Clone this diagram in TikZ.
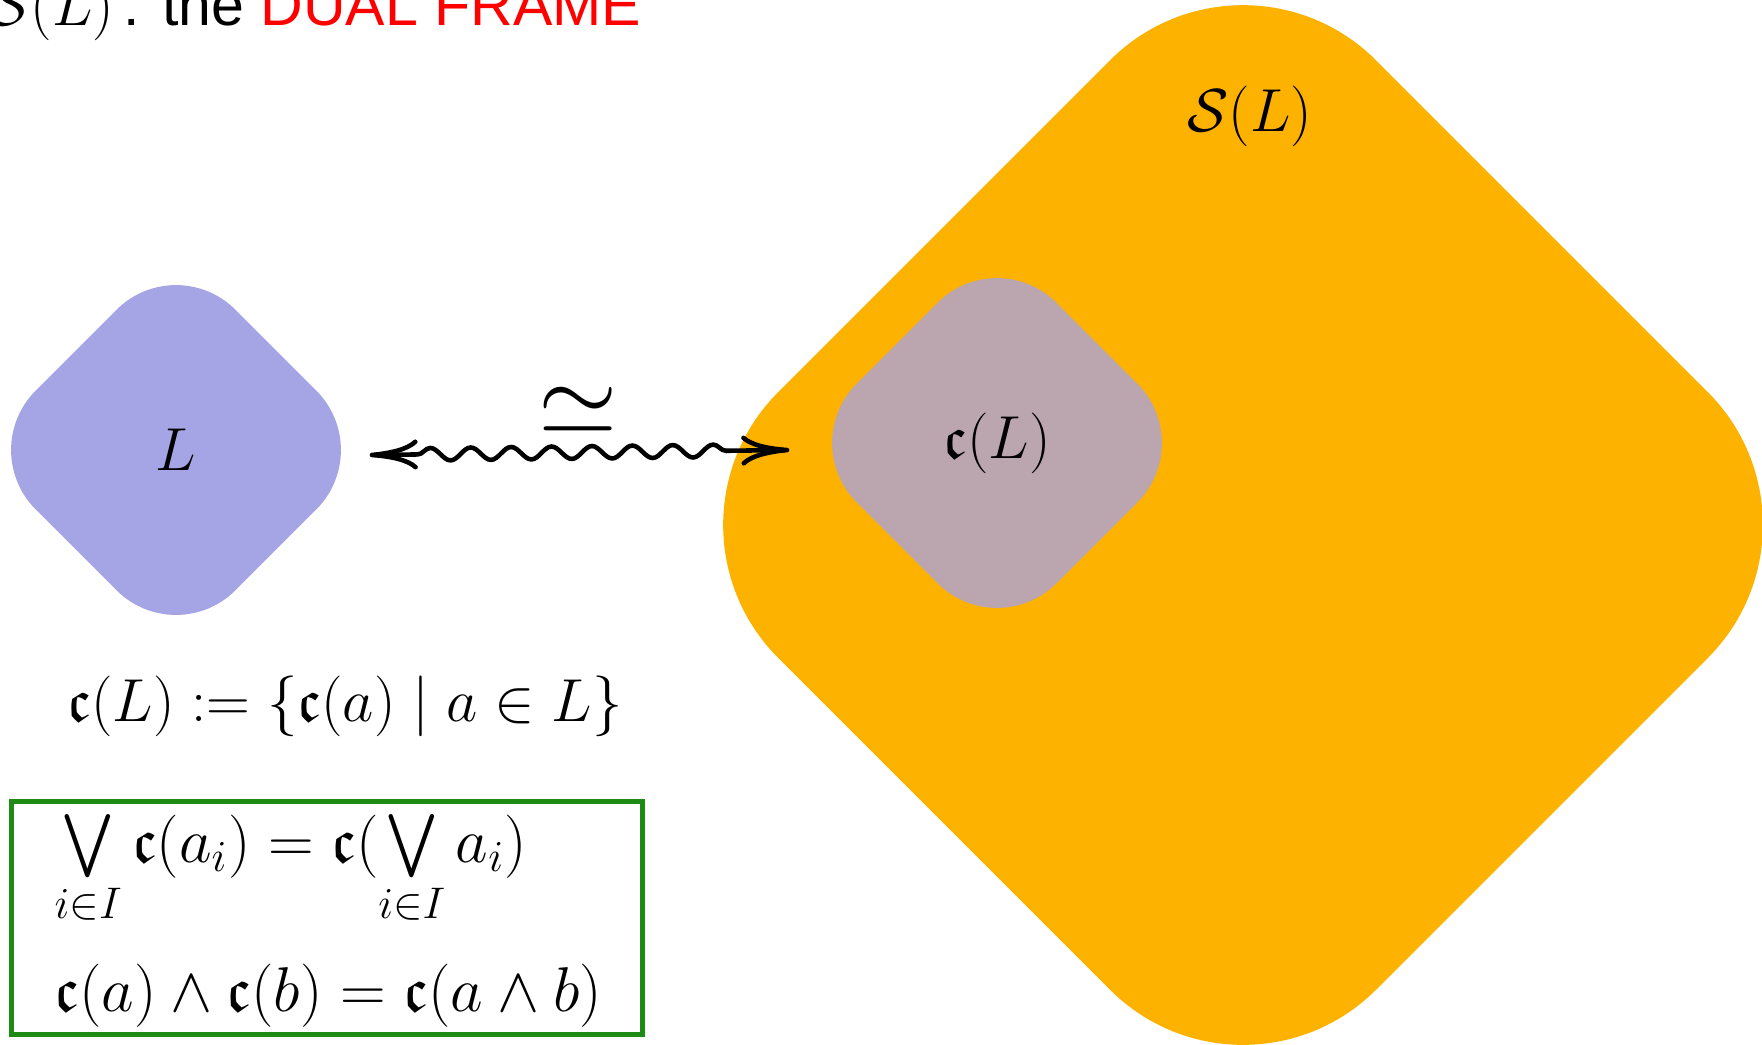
\RequirePackage{fix-cm}
\documentclass[tikz,border=0pt]{standalone}
\usepackage{fontspec}
\setsansfont{Liberation Sans}
\usepackage{amsmath,amssymb}
\usepackage{tikz}
\usetikzlibrary{arrows.meta,positioning,shapes.geometric,decorations.pathmorphing}
\definecolor{latblue}{RGB}{165,164,228}
\definecolor{imgmauve}{RGB}{187,165,174}
\definecolor{frameorange}{RGB}{254,178,0}
\definecolor{rulegreen}{RGB}{30,140,20}

\begin{document}
\begin{tikzpicture}[
        every node/.style={font=\LARGE, inner sep=0pt},
        lattice/.style={diamond, rounded corners=8.4mm, minimum size=4cm},
        rulebox/.style={draw=rulegreen, line width=0.05cm, minimum width=6.31cm, minimum height=2.33cm},
        ruletext/.style={anchor=base west, font=\fontsize{18}{22}\selectfont},
        isoarrow/.style={line width=1.3pt,
            arrows={Computer Modern Rightarrow[length=4.8mm,width=3mm]-Computer Modern Rightarrow[length=4.8mm,width=3mm]},
            decorate, decoration={snake, amplitude=1.8pt, segment length=11.5pt, pre length=4.8mm, post length=4.8mm}}
    ]
        \useasboundingbox (0,0) rectangle (17.62,-10.44);

        \node[anchor=base east, font=\fontsize{16.8}{20}\sffamily] (title) at (6.42,-0.25) {{\LARGE$\mathcal{S}(L)$}\,: the \textcolor{red}{DUAL FRAME}};

        \node[lattice, fill=frameorange, minimum size=11.96cm, rounded corners=18.8mm] (SL) at (12.43,-5.25) {};
        \node (SLlabel) at (12.50,-1.165) {$\mathcal{S}(L)$};
        \node[lattice, fill=imgmauve] (cL) at (9.97,-4.43) {$\mathfrak{c}(L)$};
        \node[lattice, fill=latblue] (L) at (1.76,-4.50) {$L$};

        \draw[isoarrow] ([shift={(-0.07,-0.05)}]L.east) -- ([shift={(-0.07,0)}]L.east -| cL.west);
        \node[font=\fontsize{29}{34}\selectfont] (isolabel) at (5.78,-4.11) {$\simeq$};

        \node[anchor=base] (cdef) at (3.45,-7.21) {$\mathfrak{c}(L) := \{\mathfrak{c}(a) \mid a \in L\}$};

        \node[rulebox] (rules) at (3.27,-9.18) {};
        \node[ruletext] (joinrule) at (0.54,-8.62) {$\bigvee\limits_{i\in I}\mathfrak{c}(a_i) = \mathfrak{c}(\bigvee\limits_{i\in I} a_i)$};
        \node[ruletext] (meetrule) at (0.54,-10.11) {$\mathfrak{c}(a) \wedge \mathfrak{c}(b) = \mathfrak{c}(a \wedge b)$};
    \end{tikzpicture}
\end{document}
